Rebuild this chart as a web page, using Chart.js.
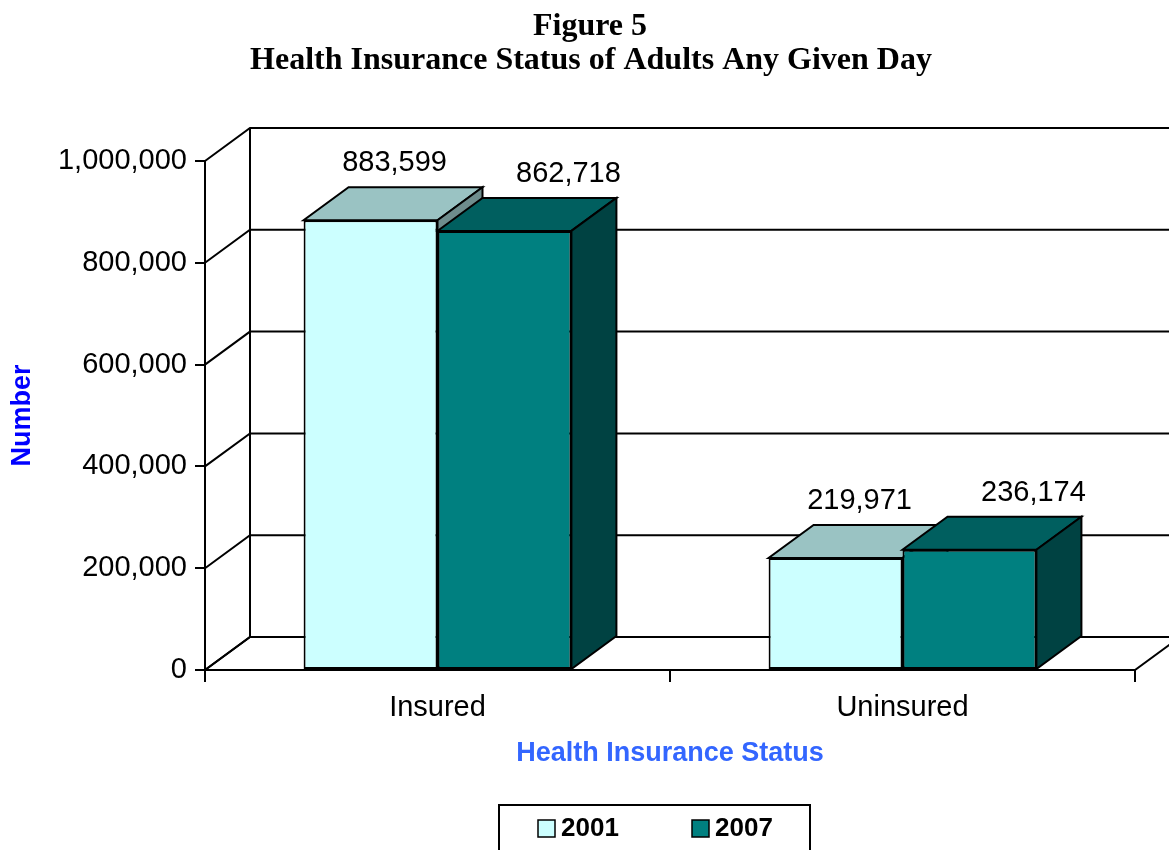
<!DOCTYPE html>
<html>
<head>
<meta charset="utf-8">
<title>Health Insurance Status of Adults Any Given Day</title>
<script src="https://cdn.jsdelivr.net/npm/chart.js@4.4.1/dist/chart.umd.min.js"></script>
<style>
  html, body { margin: 0; padding: 0; background: #fff; overflow: hidden; }
  #chart { display: block; }
</style>
</head>
<body>
<canvas id="chart" width="1180" height="850"></canvas>
<script>
const categories = ['Insured', 'Uninsured'];
const years = ['2001', '2007'];
const values2001 = [883599, 219971];
const values2007 = [862718, 236174];
const yTicks = [0, 200000, 400000, 600000, 800000, 1000000];

const SANS = '"Liberation Sans", Arial, sans-serif';
const SERIF = '"Liberation Serif", "Times New Roman", serif';

// depth of the fake 3d box (walls and bars share it)
const DEPTH_X = 45;
const DEPTH_Y = -33;

const faceColors = [
  { front: '#CCFFFF', top: '#9AC3C3', side: '#6E8D8D' },
  { front: '#008080', top: '#005F5F', side: '#004242' }
];
const labelShift = [24, 64];

const fmt = (v) => v.toLocaleString('en-US');

function poly(ctx, pts, fill) {
  ctx.beginPath();
  ctx.moveTo(pts[0][0], pts[0][1]);
  for (let i = 1; i < pts.length; i++) ctx.lineTo(pts[i][0], pts[i][1]);
  ctx.closePath();
  if (fill) {
    ctx.fillStyle = fill;
    ctx.fill();
  }
  ctx.stroke();
}

const boxPlugin = {
  id: 'box3d',
  beforeDatasetsDraw(chart) {
    const { ctx, chartArea: area, scales } = chart;
    const y = scales.y;
    const bottom = y.getPixelForValue(0);
    ctx.save();
    ctx.strokeStyle = '#000';
    ctx.lineWidth = 2;

    // floor
    poly(ctx, [
      [area.left, bottom],
      [area.right, bottom],
      [area.right + DEPTH_X, bottom + DEPTH_Y],
      [area.left + DEPTH_X, bottom + DEPTH_Y]
    ], '#fff');

    // back wall and side wall lines
    ctx.beginPath();
    ctx.moveTo(area.left + DEPTH_X, y.getPixelForValue(yTicks[yTicks.length - 1]) + DEPTH_Y);
    ctx.lineTo(area.left + DEPTH_X, bottom + DEPTH_Y);
    yTicks.forEach((v) => {
      const py = y.getPixelForValue(v);
      ctx.moveTo(area.left, py);
      ctx.lineTo(area.left + DEPTH_X, py + DEPTH_Y);
      ctx.lineTo(area.right + DEPTH_X, py + DEPTH_Y);
    });
    ctx.stroke();

    // top and side faces of the bars, front faces come from chart.js
    chart.data.datasets.forEach((ds, i) => {
      const meta = chart.getDatasetMeta(i);
      meta.data.forEach((bar) => {
        const l = bar.x - bar.width / 2;
        const r = bar.x + bar.width / 2;
        const t = bar.y;
        const b = bar.base;
        poly(ctx, [[l, t], [r, t], [r + DEPTH_X, t + DEPTH_Y], [l + DEPTH_X, t + DEPTH_Y]], faceColors[i].top);
        poly(ctx, [[r, t], [r + DEPTH_X, t + DEPTH_Y], [r + DEPTH_X, b + DEPTH_Y], [r, b]], faceColors[i].side);
      });
    });
    ctx.restore();
  },
  afterDatasetsDraw(chart) {
    const { ctx } = chart;
    ctx.save();
    ctx.fillStyle = '#000';
    ctx.font = '29px ' + SANS;
    ctx.textAlign = 'center';
    ctx.textBaseline = 'alphabetic';
    chart.data.datasets.forEach((ds, i) => {
      chart.getDatasetMeta(i).data.forEach((bar, j) => {
        ctx.fillText(fmt(ds.data[j]), bar.x + labelShift[i], bar.y + DEPTH_Y - 16);
      });
    });
    ctx.restore();
  },
  afterDraw(chart) {
    const { ctx } = chart;
    ctx.save();
    // heading
    ctx.fillStyle = '#000';
    ctx.font = 'bold 32px ' + SERIF;
    ctx.textAlign = 'center';
    ctx.textBaseline = 'alphabetic';
    ctx.fillText('Figure 5', 590, 35);
    ctx.fillText('Health Insurance Status of Adults Any Given Day', 591, 69);

    // legend box
    ctx.strokeStyle = '#000';
    ctx.lineWidth = 2;
    ctx.strokeRect(499, 805, 311, 60);
    ctx.font = 'bold 26px ' + SANS;
    ctx.textAlign = 'left';
    ctx.textBaseline = 'middle';
    const itemX = [538, 692];
    chart.data.datasets.forEach((ds, i) => {
      ctx.fillStyle = ds.backgroundColor;
      ctx.lineWidth = 1.5;
      ctx.fillRect(itemX[i], 820, 17, 17);
      ctx.strokeRect(itemX[i], 820, 17, 17);
      ctx.fillStyle = '#000';
      ctx.fillText(ds.label, itemX[i] + 23, 829);
    });
    ctx.restore();
  }
};

new Chart(document.getElementById('chart'), {
  type: 'bar',
  data: {
    labels: categories,
    datasets: [
      {
        label: years[0],
        data: values2001,
        backgroundColor: faceColors[0].front,
        borderColor: '#000',
        borderWidth: 2,
        borderSkipped: false
      },
      {
        label: years[1],
        data: values2007,
        backgroundColor: faceColors[1].front,
        borderColor: '#000',
        borderWidth: 2,
        borderSkipped: false
      }
    ]
  },
  options: {
    responsive: false,
    animation: false,
    events: [],
    categoryPercentage: 0.576,
    barPercentage: 1,
    layout: { padding: { left: 6, right: 45, top: 161, bottom: 0 } },
    plugins: {
      legend: { display: false },
      title: { display: false },
      tooltip: { enabled: false }
    },
    scales: {
      x: {
        afterFit: (scale) => { scale.height = 180; },
        grid: {
          offset: true,
          drawOnChartArea: false,
          tickLength: 12,
          color: '#000',
          lineWidth: 2
        },
        border: { display: true, color: '#000', width: 2 },
        ticks: {
          color: '#000',
          padding: 9,
          font: { family: SANS, size: 29 }
        },
        title: {
          display: true,
          text: 'Health Insurance Status',
          color: '#3366FF',
          padding: { top: 0, bottom: 80 },
          font: { family: SANS, size: 27, weight: 'bold' }
        }
      },
      y: {
        min: 0,
        max: 1000000,
        afterFit: (scale) => { scale.width = 199; },
        afterBuildTicks: (scale) => {
          scale.ticks = yTicks.map((v) => ({ value: v }));
        },
        grid: {
          drawOnChartArea: false,
          tickLength: 10,
          color: '#000',
          lineWidth: 2
        },
        border: { display: true, color: '#000', width: 2 },
        ticks: {
          color: '#000',
          padding: 8,
          font: { family: SANS, size: 29 },
          callback: (v) => fmt(v)
        },
        title: {
          display: true,
          text: 'Number',
          color: '#0000FF',
          padding: { top: 0, bottom: 18 },
          font: { family: SANS, size: 27, weight: 'bold' }
        }
      }
    }
  },
  plugins: [boxPlugin]
});
</script>
</body>
</html>
